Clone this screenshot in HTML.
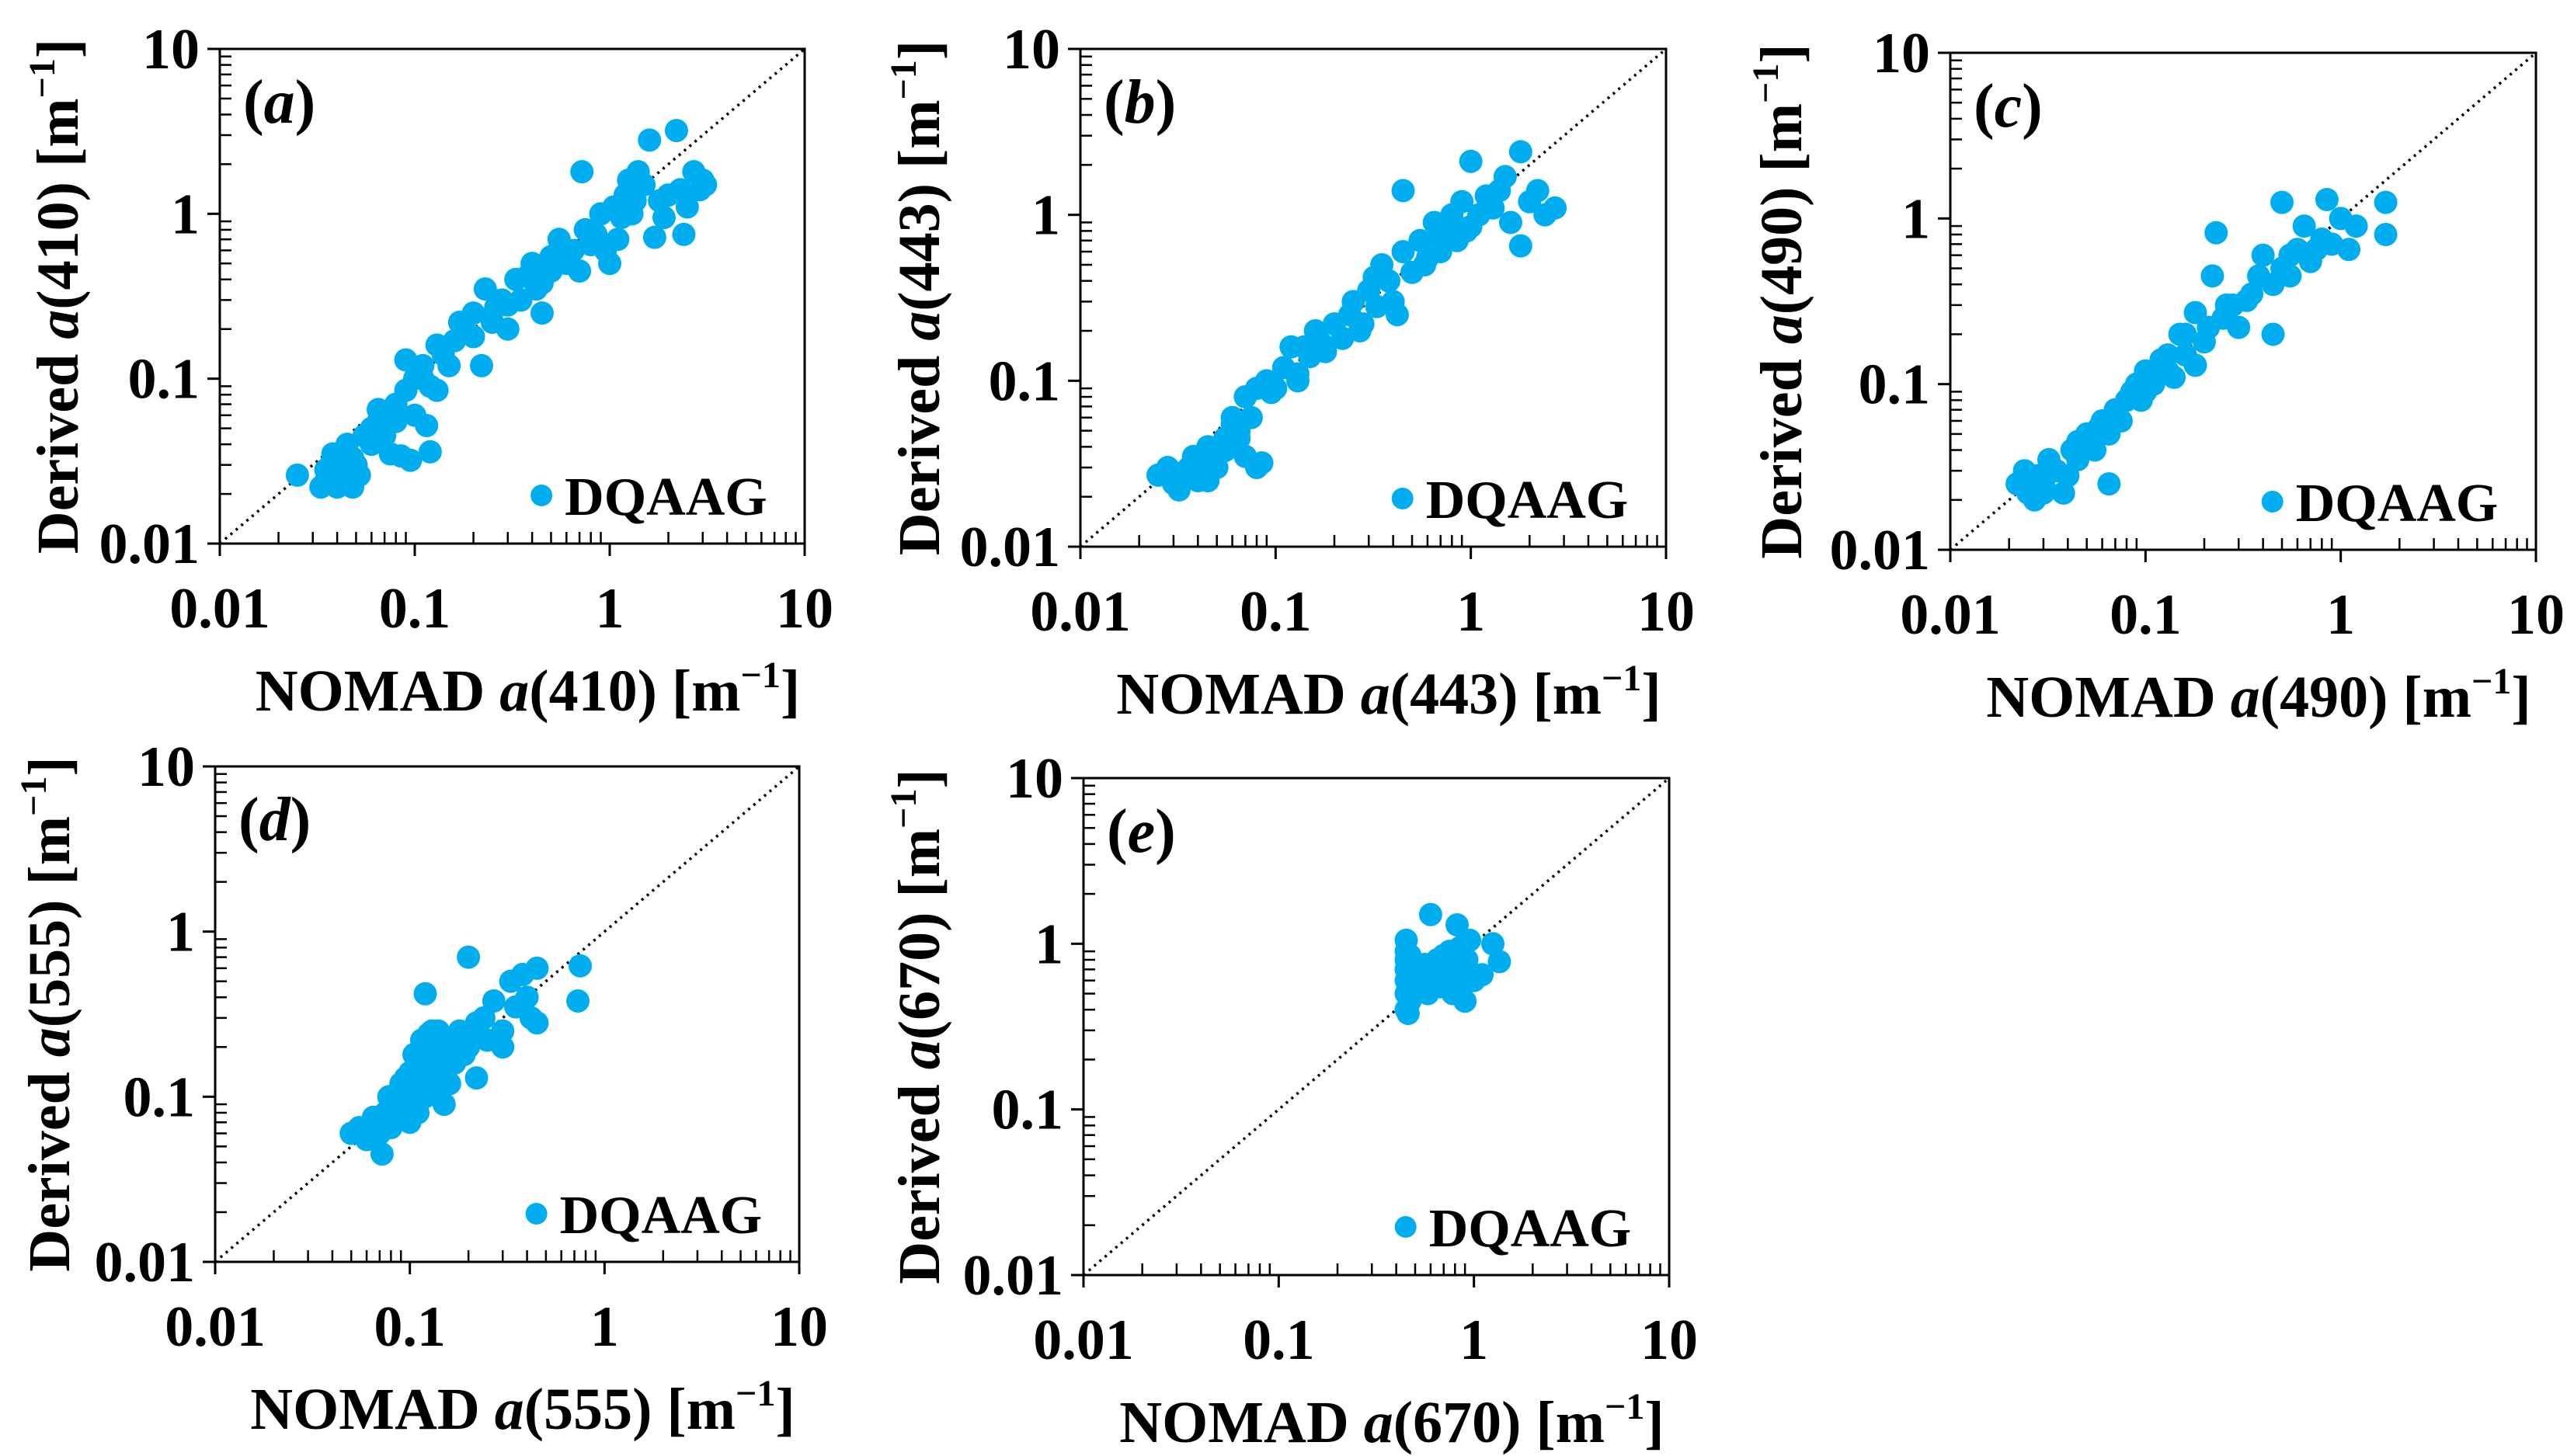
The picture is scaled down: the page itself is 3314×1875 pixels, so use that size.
<!DOCTYPE html>
<html><head><meta charset="utf-8"><style>
html,body{margin:0;padding:0;background:#fff;}
svg{display:block;}
text{font-family:"Liberation Serif","Times New Roman",serif;font-weight:bold;fill:#000;}
</style></head><body>
<svg id="fig" width="3314" height="1875" viewBox="0 0 3314 1875" xmlns="http://www.w3.org/2000/svg"></svg>
<script>
// ---- data (NOMAD x, Derived y) ----
const xA=[0.025,0.033,0.035,0.037,0.04,0.042,0.045,0.048,0.05,0.052,0.038,0.045,0.055,0.06,0.065,0.07,0.075,0.085,0.095,0.12,0.115,0.1,0.08,0.09,0.1,0.09,0.11,0.12,0.13,0.14,0.15,0.13,0.17,0.2,0.22,0.23,0.25,0.28,0.3,0.33,0.35,0.4,0.42,0.45,0.5,0.55,0.6,0.65,0.7,0.72,0.75,0.8,0.9,0.95,1.0,1.05,1.1,1.2,1.3,1.4,1.5,1.6,1.7,1.8,1.9,2.0,2.2,2.3,2.4,2.5,2.7,2.9,3.0,3.1,0.065,0.06,0.3,0.2,0.5,0.04,0.07,0.08,0.11,0.16,0.18,0.26,0.38,0.45,0.55,0.62,0.85,1.15,1.35,1.25,0.035,0.048];
const yA=[0.026,0.022,0.024,0.03,0.022,0.028,0.025,0.022,0.03,0.026,0.035,0.04,0.045,0.05,0.055,0.045,0.035,0.034,0.032,0.036,0.052,0.06,0.07,0.085,0.1,0.13,0.12,0.09,0.085,0.14,0.12,0.16,0.22,0.25,0.12,0.35,0.22,0.3,0.2,0.4,0.3,0.5,0.35,0.25,0.45,0.7,0.5,0.6,0.45,1.8,0.8,0.65,1.0,0.6,0.5,1.1,0.7,1.3,1.0,1.8,1.5,2.8,0.72,1.2,0.95,1.3,3.2,1.4,0.75,1.1,1.8,1.4,1.6,1.5,0.065,0.04,0.28,0.18,0.55,0.03,0.06,0.055,0.1,0.17,0.2,0.27,0.42,0.38,0.6,0.55,0.75,0.95,1.2,1.6,0.028,0.033];
const xB=[0.025,0.028,0.03,0.032,0.035,0.038,0.04,0.042,0.045,0.05,0.055,0.06,0.065,0.07,0.08,0.085,0.06,0.07,0.08,0.09,0.1,0.11,0.12,0.13,0.15,0.16,0.18,0.2,0.22,0.25,0.28,0.3,0.33,0.35,0.38,0.4,0.45,0.45,0.5,0.55,0.6,0.65,0.7,0.75,0.8,0.85,0.9,1.0,1.0,1.1,1.2,1.3,1.5,1.6,1.8,1.8,2.0,2.2,2.4,2.7,0.13,0.14,0.03,0.036,0.048,0.065,0.075,0.095,0.17,0.24,0.27,0.32,0.42,0.58,0.68,0.95,1.4,0.045,0.055];
const yB=[0.027,0.03,0.024,0.022,0.028,0.035,0.025,0.03,0.04,0.03,0.045,0.055,0.045,0.035,0.03,0.032,0.06,0.08,0.09,0.1,0.09,0.12,0.16,0.11,0.14,0.2,0.15,0.22,0.18,0.3,0.22,0.35,0.28,0.5,0.4,0.3,1.4,0.6,0.45,0.7,0.55,0.9,0.6,0.8,1.0,0.7,1.2,2.1,0.85,1.0,1.3,1.1,1.7,0.9,2.4,0.65,1.2,1.4,1.0,1.1,0.1,0.16,0.028,0.03,0.035,0.05,0.06,0.085,0.17,0.25,0.2,0.42,0.25,0.5,0.75,0.8,1.4,0.025,0.038];
const xC=[0.022,0.024,0.025,0.027,0.028,0.03,0.032,0.035,0.038,0.04,0.042,0.045,0.05,0.055,0.06,0.065,0.065,0.07,0.075,0.08,0.09,0.1,0.1,0.11,0.12,0.13,0.14,0.15,0.16,0.18,0.2,0.22,0.23,0.25,0.28,0.3,0.35,0.4,0.45,0.45,0.5,0.5,0.55,0.6,0.65,0.7,0.8,0.85,0.9,1.0,1.1,1.2,1.7,1.7,0.16,0.12,0.18,0.026,0.03,0.034,0.045,0.058,0.085,0.095,0.13,0.21,0.26,0.33,0.38,0.55,0.75];
const yC=[0.025,0.03,0.022,0.02,0.028,0.025,0.035,0.03,0.022,0.028,0.04,0.035,0.05,0.04,0.06,0.025,0.05,0.07,0.06,0.08,0.1,0.09,0.12,0.1,0.12,0.15,0.11,0.2,0.15,0.27,0.18,0.45,0.82,0.25,0.3,0.22,0.35,0.6,0.2,0.4,1.25,0.5,0.45,0.65,0.9,0.55,0.75,1.3,0.7,1.0,0.65,0.9,0.8,1.25,0.2,0.14,0.13,0.027,0.022,0.03,0.045,0.055,0.09,0.08,0.12,0.22,0.3,0.32,0.45,0.6,0.65];
const xD=[0.05,0.055,0.06,0.065,0.07,0.072,0.075,0.08,0.085,0.09,0.09,0.1,0.1,0.11,0.11,0.12,0.12,0.12,0.13,0.13,0.14,0.15,0.15,0.16,0.17,0.18,0.2,0.2,0.22,0.22,0.25,0.27,0.3,0.33,0.35,0.38,0.4,0.42,0.45,0.45,0.75,0.73,0.1,0.14,0.16,0.19,0.13,0.12,0.065,0.078,0.095,0.105,0.115,0.125,0.135,0.145,0.11,0.1,0.09,0.12,0.14,0.17,0.21,0.24,0.3];
const yD=[0.06,0.065,0.055,0.07,0.06,0.045,0.08,0.065,0.09,0.075,0.1,0.085,0.12,0.1,0.15,0.13,0.42,0.2,0.11,0.25,0.18,0.14,0.09,0.22,0.16,0.25,0.7,0.2,0.28,0.13,0.22,0.38,0.25,0.5,0.35,0.55,0.4,0.3,0.6,0.28,0.62,0.38,0.14,0.22,0.12,0.18,0.17,0.1,0.075,0.1,0.13,0.18,0.22,0.24,0.2,0.15,0.08,0.07,0.12,0.16,0.25,0.2,0.24,0.3,0.2];
const xE=[0.45,0.45,0.45,0.45,0.45,0.45,0.45,0.47,0.47,0.47,0.5,0.5,0.52,0.55,0.58,0.6,0.6,0.65,0.68,0.7,0.72,0.75,0.78,0.8,0.82,0.85,0.88,0.9,0.92,0.95,1.0,1.1,1.25,1.35,0.46,0.48,0.5,0.53,0.56,0.62,0.7,0.77,0.85];
const yE=[0.4,0.5,0.6,0.7,0.8,0.9,1.05,0.45,0.65,0.85,0.55,0.75,0.6,0.7,0.5,1.5,0.65,0.8,0.55,0.7,0.6,0.9,0.5,0.75,1.3,0.95,0.65,0.45,0.8,1.05,0.6,0.65,1.0,0.78,0.38,0.55,0.65,0.62,0.75,0.6,0.85,0.7,0.6];
const tickVals=[0.01,0.1,1,10];
const tickLabels=["0.01","0.1","1","10"];
const panelLetters=["a","b","c","d","e"];
const bands=["410","443","490","555","670"];

const NS="http://www.w3.org/2000/svg";
const svg=document.getElementById('fig');
function mk(tag,attrs,parent){const e=document.createElementNS(NS,tag);for(const k in attrs)e.setAttribute(k,attrs[k]);(parent||svg).appendChild(e);return e;}

const panels=[
 {x0:283,x1:1036,y0:63,y1:700,ytx:74,xs:xA,ys:yA},
 {x0:1391,x1:2145,y0:63,y1:704,ytx:1183,xs:xB,ys:yB},
 {x0:2511,x1:3265,y0:68,y1:708,ytx:2293,xs:xC,ys:yC},
 {x0:277,x1:1029,y0:987,y1:1625,ytx:63,xs:xD,ys:yD},
 {x0:1395,x1:2149,y0:1002,y1:1642,ytx:1183,xs:xE,ys:yE}
];

panels.forEach((p,i)=>{
  const g=mk('g',{});
  
  
  const sx=v=>p.x0+(Math.log10(v)+2)/3*(p.x1-p.x0);
  const sy=v=>p.y1-(Math.log10(v)+2)/3*(p.y1-p.y0);
  const fr=mk('rect',{x:p.x0,y:p.y0,width:p.x1-p.x0,height:p.y1-p.y0,fill:'none',stroke:'#000','stroke-width':3},g);
  
  
  for(let d=-2;d<1;d++){for(let m=2;m<=9;m++){const v=m*Math.pow(10,d);
    mk('line',{x1:sx(v),x2:sx(v),y1:p.y1,y2:p.y1-15,stroke:'#000','stroke-width':2.5},g);
    mk('line',{x1:p.x0,x2:p.x0+15,y1:sy(v),y2:sy(v),stroke:'#000','stroke-width':2.5},g);}}
  tickVals.forEach((v,k)=>{
    mk('line',{x1:sx(v),x2:sx(v),y1:p.y1,y2:p.y1+16,stroke:'#000','stroke-width':3},g);
    mk('line',{x1:p.x0-16,x2:p.x0,y1:sy(v),y2:sy(v),stroke:'#000','stroke-width':3},g);
    const tx=mk('text',{x:sx(v),y:p.y1+108,'text-anchor':'middle','font-size':74},g);tx.textContent=tickLabels[k];
    
    
    const ty=mk('text',{x:p.x0-26,y:sy(v)+25,'text-anchor':'end','font-size':74},g);ty.textContent=tickLabels[k];
    
    
  });
  const ln=mk('line',{x1:sx(0.01),y1:sy(0.01),x2:sx(10),y2:sy(10),stroke:'#000','stroke-width':3.5,'stroke-dasharray':'3 6'},g);
  
  
  p.xs.forEach((xv,k)=>{
    const c=mk('circle',{cx:sx(xv),cy:sy(p.ys[k]),r:15,fill:'#00AEEF'},g);
    
    
  });
  const pl=mk('text',{x:p.x0+30,y:p.y0+95,'font-size':80},g);
  pl.innerHTML='(<tspan font-style="italic">'+panelLetters[i]+'</tspan>)';
  
  
  const lw=p.x1-p.x0;
  const lc=mk('circle',{cx:p.x0+0.55*lw,cy:p.y1-62,r:14,fill:'#00AEEF'},g);
  
  
  const lt=mk('text',{x:p.x0+0.55*lw+30,y:p.y1-37,'font-size':70},g);lt.textContent='DQAAG';
  
  
  const xt=mk('text',{x:(p.x0+p.x1)/2+20,y:p.y1+215,'text-anchor':'middle','font-size':76},g);
  xt.innerHTML='NOMAD <tspan font-style="italic">a</tspan>('+bands[i]+') [m<tspan dy="-30" font-size="48">−1</tspan><tspan dy="30">]</tspan>';
  
  
  const cy=(p.y0+p.y1)/2;
  const yt=mk('text',{x:p.ytx,y:cy,'text-anchor':'middle','font-size':76,transform:'rotate(-90 '+p.ytx+' '+cy+') translate(0 26)'},g);
  yt.innerHTML='Derived <tspan font-style="italic">a</tspan>('+bands[i]+') [m<tspan dy="-30" font-size="48">−1</tspan><tspan dy="30">]</tspan>';
  
  
});
</script>
</body></html>
